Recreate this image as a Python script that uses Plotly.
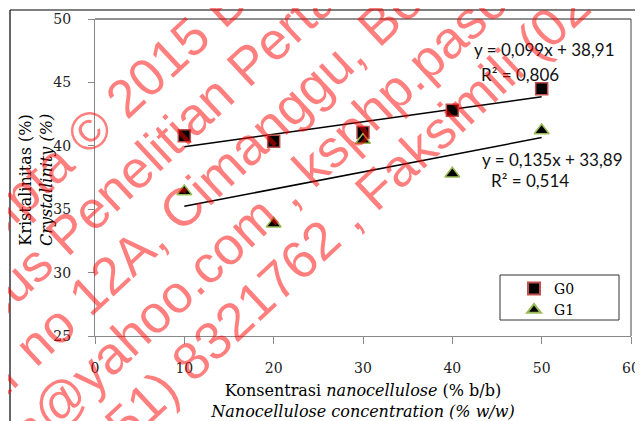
import math
import numpy as np
import plotly.graph_objects as go

# ---------------- data ----------------
concentration = [10, 20, 30, 40, 50]
g0_values = [40.8, 40.35, 41.05, 42.8, 44.5]
g1_values = [36.4, 33.85, 40.45, 37.8, 41.2]
series_names = ["G0", "G1"]
x_tick_vals = [0, 10, 20, 30, 40, 50, 60]
y_tick_vals = [25, 30, 35, 40, 45, 50]
x_title = "Konsentrasi <i>nanocellulose</i> (% b/b)<br><i>Nanocellulose concentration (% w/w)</i>"
y_title = "Kristalinitas (%)<br><i>Crystallinity (%)</i>"
eq_g0 = ["y = 0,099x + 38,91", "R² = 0,806"]
eq_g1 = ["y = 0,135x + 33,89", "R² = 0,514"]
watermark_lines = [
    "Hak cipta © 2015 BB Pascapanen",
    "Kampus Penelitian Pertanian Cimanggu",
    "Jalan Tentara Pelajar no 12A, Cimanggu, Bogor 16114",
    "email: bb_pascapanen@yahoo.com , ksphp.pascal",
    "Telepon (0251) 8321762 , Faksimili (0251) 8350920",
]

# ---------------- layout geometry ----------------
# the page body has an 8px default margin, so the figure is drawn 8px smaller
# and every screen position below is measured in window pixels.
SHIFT = 8
WIN_W, WIN_H = 643, 421
W, H = WIN_W - SHIFT, WIN_H - SHIFT
PLOT_L, PLOT_R, PLOT_T, PLOT_B = 95, 631, 19, 336   # window pixels
PW = PLOT_R - PLOT_L
PH = PLOT_B - PLOT_T
L = PLOT_L - SHIFT
T = PLOT_T - SHIFT
R = W - (PLOT_R - SHIFT)
B = H - (PLOT_B - SHIFT)


def px(xpix):
    return (xpix - PLOT_L) / PW


def py(ypix):
    return (PLOT_B - ypix) / PH


fig = go.Figure()

# trend lines (least squares through library)
for vals in (g0_values, g1_values):
    coef = np.polyfit(concentration, vals, 1)
    xs = [min(concentration), max(concentration)]
    fig.add_trace(go.Scatter(x=xs, y=list(np.polyval(coef, xs)), mode="lines",
                             line=dict(color="black", width=1.5),
                             showlegend=False, hoverinfo="skip"))

fig.add_trace(go.Scatter(x=concentration, y=g0_values, mode="markers", name=series_names[0],
                         marker=dict(symbol="square", size=12, color="black",
                                     line=dict(color="#c0504d", width=1.5))))
fig.add_trace(go.Scatter(x=concentration, y=g1_values, mode="markers", name=series_names[1],
                         marker=dict(symbol="triangle-up", size=13, color="black",
                                     line=dict(color="#9bbb59", width=1.5))))

tick_font = dict(family="DejaVu Serif", size=14, color="#222")
title_font = dict(family="DejaVu Serif", size=16, color="black")

fig.update_layout(
    width=W, height=H,
    margin=dict(l=L, r=R, t=T, b=B, autoexpand=False),
    paper_bgcolor="white", plot_bgcolor="rgba(0,0,0,0)",
    showlegend=True,
    legend=dict(x=px(514), y=py(273), xanchor="left", yanchor="top",
                bgcolor="rgba(0,0,0,0)", borderwidth=0, itemsizing="constant",
                font=dict(family="DejaVu Serif", size=14, color="black")),
    xaxis=dict(range=[0, 60], tickvals=x_tick_vals, ticks="outside", ticklen=7,
               tickcolor="#888", showline=True, linecolor="#888", linewidth=1,
               showgrid=False, zeroline=False, tickfont=tick_font, automargin=False,
               ticklabelstandoff=12,
               title=dict(text=x_title, font=title_font, standoff=10)),
    yaxis=dict(range=[25, 50], tickvals=y_tick_vals, ticks="outside", ticklen=6,
               tickcolor="#888", showline=True, linecolor="#888", linewidth=1,
               showgrid=False, zeroline=False, tickfont=tick_font, automargin=False,
               ticklabelstandoff=14),
)

# frames
shapes = [
    # outer chart frame (left + top)
    dict(type="line", xref="paper", yref="paper", x0=px(10), x1=px(10), y0=py(10), y1=py(440),
         line=dict(color="black", width=1.2)),
    dict(type="line", xref="paper", yref="paper", x0=px(10), x1=px(660), y0=py(10), y1=py(10),
         line=dict(color="black", width=1.2)),
    # plot area top and right border
    dict(type="line", xref="paper", yref="paper", x0=0, x1=1, y0=1, y1=1,
         line=dict(color="#222", width=1)),
    dict(type="line", xref="paper", yref="paper", x0=1, x1=1, y0=0, y1=1,
         line=dict(color="#444", width=1)),
    # legend box
    dict(type="rect", xref="paper", yref="paper", x0=px(500), x1=px(619), y0=py(320), y1=py(275),
         line=dict(color="#333", width=1), fillcolor="white", layer="below"),
]
fig.update_layout(shapes=shapes)

annotations = []
# y-axis title (two lines, rotated)
annotations.append(dict(text=y_title, x=px(36), y=py(180), xref="paper", yref="paper",
                        xanchor="center", yanchor="middle", showarrow=False, textangle=-90,
                        font=title_font))

eq_font = dict(family="Lato", size=17, color="#111")
for (txt, cx, cy) in [(eq_g0[0], 544, 50), (eq_g0[1], 520, 74),
                      (eq_g1[0], 552, 159), (eq_g1[1], 530, 181)]:
    annotations.append(dict(text=txt, x=px(cx), y=py(cy), xref="paper", yref="paper",
                            xanchor="center", yanchor="middle", showarrow=False, font=eq_font))

# ---------------- watermark ----------------
WM_SIZE = 53
WM_ANGLE = 43
ARIAL = {' ': 278, '(': 333, ')': 333, ',': 278, '.': 278, '@': 1015, '©': 737, '_': 556, ':': 278,
         'A': 667, 'B': 667, 'C': 722, 'F': 611, 'H': 722, 'J': 500, 'K': 667, 'P': 667, 'T': 611,
         'a': 556, 'b': 556, 'c': 500, 'd': 556, 'e': 556, 'f': 278, 'g': 556, 'h': 556, 'i': 222,
         'j': 222, 'k': 500, 'l': 222, 'm': 833, 'n': 556, 'o': 556, 'p': 556, 'r': 333, 's': 500,
         't': 278, 'u': 556, 'x': 500, 'y': 500, 'w': 722}


def tw(s):
    return sum(ARIAL.get(c, 556) for c in s) / 1000.0 * WM_SIZE


theta = math.radians(WM_ANGLE)
ct, st = math.cos(theta), math.sin(theta)
wm_anchor = [("2015", 69), ("Penelitian", -10), ("Cimanggu", 95), ("yahoo.com", -74), ("Faksimili", 236)]
n0, dn = 156.3, 59.5
for k, (line, (word, t_anchor)) in enumerate(zip(watermark_lines, wm_anchor)):
    i = line.index(word)
    anchor_off = tw(line[:i]) + tw(word) / 2
    t_center = t_anchor + (tw(line) / 2 - anchor_off)
    n = n0 + k * dn
    cxp = t_center * ct + n * st
    cyp = -t_center * st + n * ct
    annotations.append(dict(text=line, x=px(cxp), y=py(cyp), xref="paper", yref="paper",
                            xanchor="center", yanchor="middle", showarrow=False, textangle=-WM_ANGLE,
                            font=dict(family="Liberation Sans", size=WM_SIZE, color="rgba(255,0,0,0.5)")))

fig.update_layout(annotations=annotations)
fig.write_html("out.html")
